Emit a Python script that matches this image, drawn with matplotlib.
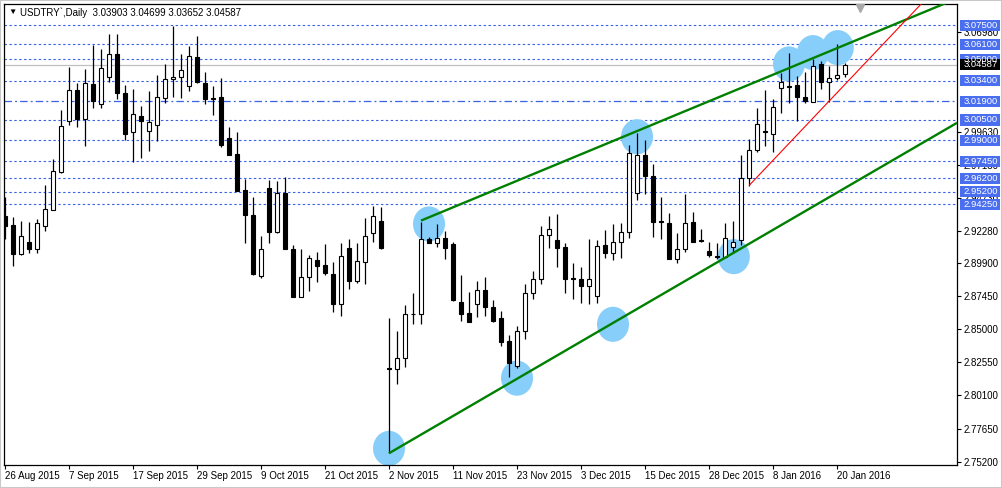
import matplotlib
matplotlib.use("Agg")
import matplotlib.pyplot as plt
import matplotlib.transforms as mtransforms
from matplotlib.patches import Ellipse, Rectangle

plt.rcParams['font.family'] = ['Liberation Sans', 'DejaVu Sans']

# daily USDTRY bars, 26 Aug 2015 .. 21 Jan 2016
opens = [2.9340, 2.9271, 2.9056, 2.9147, 2.9098, 2.9263, 2.9386, 2.9663, 3.0045, 3.0272,
         3.0055, 3.0317, 3.0166, 3.0367, 3.0542, 3.0250, 2.9959, 3.0080, 2.9971, 3.0015,
         3.0215, 3.0352, 3.0367, 3.0300, 3.0517, 3.0325, 3.0213, 3.0220, 2.9917, 2.9798,
         2.9532, 2.9345, 2.8895, 2.9547, 2.9223, 2.9510, 2.9093, 2.8741, 2.8885, 2.9012,
         2.8974, 2.8908, 2.8685, 2.9101, 2.8854, 2.8995, 2.9212, 2.9300, 2.8212, 2.8204,
         2.8286, 2.8613, 2.8611, 2.9167, 2.9138, 2.9175, 2.9131, 2.8701, 2.8619, 2.8685,
         2.8789, 2.8663, 2.8582, 2.8414, 2.8229, 2.8484, 2.8767, 2.8870, 2.9199, 2.9162,
         2.9110, 2.8876, 2.8872, 2.8823, 2.8749, 2.9125, 2.9068, 2.9145, 2.9219, 2.9508,
         2.9789, 2.9633, 2.9299, 2.9288, 2.9018, 2.9093, 2.9295, 2.9156, 2.9081, 2.9044,
         2.9032, 2.9106, 2.9162, 2.9623, 2.9826, 2.9963, 2.9944, 3.0285, 3.0299, 3.0308,
         3.0218, 3.0185, 3.0463, 3.0330, 3.0359, 3.03903]
highs = [2.9482, 2.9332, 2.9303, 2.9295, 2.9317, 2.9571, 2.9761, 3.0124, 3.0443, 3.0323,
         3.0428, 3.0606, 3.0579, 3.0690, 3.0685, 3.0312, 3.0277, 3.0154, 3.0267, 3.0384,
         3.0468, 3.0744, 3.0539, 3.0601, 3.0675, 3.0408, 3.0300, 3.0362, 2.9998, 2.9961,
         2.9610, 2.9480, 2.9192, 2.9602, 2.9601, 2.9627, 2.9123, 2.9095, 2.9050, 2.9072,
         2.9131, 2.8996, 2.9138, 2.9167, 2.9138, 2.9323, 2.9416, 2.9404, 2.8586, 2.8490,
         2.8678, 2.8767, 2.9297, 2.9182, 2.9280, 2.9229, 2.9145, 2.8900, 2.8774, 2.8858,
         2.8887, 2.8715, 2.8636, 2.8458, 2.8525, 2.8837, 2.8929, 2.9266, 2.9337, 2.9354,
         2.9140, 2.8991, 2.8959, 2.9172, 2.9162, 2.9236, 2.9280, 2.9288, 2.9865, 2.9952,
         2.9902, 2.9724, 2.9480, 2.9362, 2.9212, 2.9502, 2.9369, 2.9243, 2.9147, 2.9140,
         2.9288, 2.9303, 2.9789, 2.9907, 3.0137, 3.0272, 3.0208, 3.0397, 3.0545, 3.0374,
         3.0404, 3.0504, 3.0489, 3.0448, 3.0611, 3.04699]
lows = [2.9167, 2.8971, 2.9051, 2.9068, 2.9068, 2.9231, 2.9380, 2.9656, 3.0015, 2.9998,
        2.9860, 3.0137, 3.0137, 3.0332, 3.0208, 2.9902, 2.9737, 2.9771, 2.9823, 2.9895,
        3.0174, 3.0222, 3.0215, 3.0262, 3.0325, 3.0166, 3.0085, 2.9850, 2.9789, 2.9525,
        2.9142, 2.8902, 2.8880, 2.9136, 2.9214, 2.9095, 2.8739, 2.8737, 2.8787, 2.8850,
        2.8904, 2.8630, 2.8597, 2.8802, 2.8841, 2.8838, 2.9145, 2.9093, 2.7582, 2.8095,
        2.8221, 2.8539, 2.8537, 2.9140, 2.9112, 2.9023, 2.8712, 2.8563, 2.8554, 2.8591,
        2.8595, 2.8554, 2.8376, 2.8149, 2.8216, 2.8431, 2.8722, 2.8833, 2.9105, 2.8964,
        2.8771, 2.8727, 2.8697, 2.8685, 2.8693, 2.9031, 2.9015, 2.9031, 2.9175, 2.9458,
        2.9500, 2.9186, 2.9167, 2.9017, 2.8989, 2.9071, 2.9147, 2.9145, 2.9038, 2.9021,
        2.9030, 2.9064, 2.9125, 2.9562, 2.9811, 2.9860, 2.9811, 3.0104, 3.0174, 3.0045,
        3.0174, 3.0180, 3.0280, 3.0185, 3.0344, 3.03652]
closes = [2.9268, 2.9061, 2.9189, 2.9098, 2.9288, 2.9389, 2.9670, 3.0003, 3.0272, 3.0055,
          3.0325, 3.0193, 3.0434, 3.0537, 3.0252, 2.9946, 3.0092, 3.0045, 3.0035, 3.0218,
          3.0352, 3.0369, 3.0419, 3.0522, 3.0330, 3.0208, 3.0203, 2.9867, 2.9793, 2.9527,
          2.9343, 2.8909, 2.9093, 2.9223, 2.9510, 2.9098, 2.8741, 2.8885, 2.9026, 2.8971,
          2.8919, 2.8691, 2.9042, 2.8861, 2.9004, 2.9189, 2.9337, 2.9101, 2.8207, 2.8288,
          2.8611, 2.8611, 2.9167, 2.9142, 2.9175, 2.9103, 2.8717, 2.8616, 2.8556, 2.8789,
          2.8662, 2.8560, 2.8408, 2.8249, 2.8485, 2.8767, 2.8870, 2.9199, 2.9241, 2.9105,
          2.8875, 2.8874, 2.8823, 2.8872, 2.9117, 2.9068, 2.9145, 2.9219, 2.9804, 2.9789,
          2.9632, 2.9297, 2.9296, 2.9018, 2.9093, 2.9286, 2.9149, 2.9153, 2.9047, 2.9032,
          2.9175, 2.9143, 2.9624, 2.9826, 3.0018, 2.9960, 3.0148, 3.0330, 3.0295, 3.0222,
          3.0193, 3.0448, 3.0330, 3.0359, 3.0386, 3.04587]

date_labels = ["26 Aug 2015", "7 Sep 2015", "17 Sep 2015", "29 Sep 2015", "9 Oct 2015",
               "21 Oct 2015", "2 Nov 2015", "11 Nov 2015", "23 Nov 2015", "3 Dec 2015",
               "15 Dec 2015", "28 Dec 2015", "8 Jan 2016", "20 Jan 2016"]
label_step = 8

# scale values still showing beside the level tags
price_ticks = [3.0698, 2.9963, 2.9718, 2.9473, 2.9228, 2.8990,
               2.8745, 2.8500, 2.8255, 2.8010, 2.7765, 2.7520]
levels = [3.075, 3.061, 3.050, 3.034, 3.019, 3.005, 2.990, 2.9745, 2.962, 2.952, 2.9425]
dashdot_level = 3.019
last_price = 3.04587

# drawn objects: trend lines (bar index, price) and the highlighted touches
lower_trend = [(48, 2.7582), (119, 3.0029)]
upper_trend = [(52, 2.9305), (119, 3.0950)]
red_trend = [(93, 2.9564), (115, 3.0939)]
touches = [(48.0, 2.7618), (64.0, 2.8138), (76.0, 2.8537), (91.1, 2.9038), (53.0, 2.9280),
           (79.0, 2.9926), (98.0, 3.0465), (101.0, 3.0549), (104.1, 3.0586)]

W, H = 1002, 488
fig = plt.figure(figsize=(W / 100, H / 100), dpi=100)
ax = fig.add_axes([4 / W, 23 / H, 953 / W, 461 / H])
ax.set_xlim(-0.125, 119.0)
ax.set_ylim(2.7495, 3.0909)

blue = '#3a63e6'
for lv in levels:
    if lv == dashdot_level:
        ax.axhline(lv, color=blue, lw=0.9, ls=(0, (6, 2.5, 1.5, 2.5)), zorder=1)
    else:
        ax.axhline(lv, color=blue, lw=0.8, ls=(0, (2.2, 2.2)), zorder=1)
ax.axhline(last_price, color='#c0c0c0', lw=0.9, zorder=1)

for cx, cy in touches:
    ax.add_patch(Ellipse((cx, cy), 4.0, 0.026, facecolor='#87cefa', edgecolor='none', zorder=2))

# candles
for i in range(len(opens)):
    o, h, l, c = opens[i], highs[i], lows[i], closes[i]
    ax.vlines(i, l, h, color='black', lw=0.9, zorder=3)
    lo, hi = min(o, c), max(o, c)
    if hi - lo < 0.0005:
        hi = lo + 0.0005
    fc = 'white' if c > o else 'black'
    ax.add_patch(Rectangle((i - 0.3, lo), 0.6, hi - lo, facecolor=fc, edgecolor='black',
                           lw=0.8, zorder=4))

for line, col, lw in [(lower_trend, '#008000', 1.7), (upper_trend, '#008000', 1.7),
                      (red_trend, '#ff0000', 0.8)]:
    xs = [p[0] for p in line]
    ys = [p[1] for p in line]
    ax.plot(xs, ys, color=col, lw=lw, zorder=5, solid_capstyle='butt')

# axes styling
for s in ax.spines.values():
    s.set_color('black')
    s.set_linewidth(0.9)
ax.yaxis.tick_right()
ax.set_yticks(price_ticks)
ax.set_yticklabels([f"{v:.5f}" for v in price_ticks])
ax.tick_params(axis='y', direction='out', length=3, width=0.8, labelsize=7, pad=2)
ax.set_xticks([k * label_step for k in range(len(date_labels))])
ax.set_xticklabels(date_labels, ha='left')
ax.tick_params(axis='x', direction='out', length=3, width=0.8, labelsize=7, pad=1)

# price labels on the right scale
trans = mtransforms.blended_transform_factory(ax.transAxes, ax.transData)
box_h = 0.0082
for lv in levels:
    ax.add_patch(Rectangle((1.0035, lv - box_h / 2), 0.0415, box_h, transform=trans,
                           facecolor='#4a6ef0', edgecolor='none', clip_on=False, zorder=10))
    ax.text(1.0245, lv, f"{lv:.5f}", transform=trans, ha='center', va='center',
            color='white', fontsize=6.8, zorder=11, clip_on=False)
ax.add_patch(Rectangle((1.0035, last_price - box_h / 2), 0.0415, box_h, transform=trans,
                       facecolor='black', edgecolor='none', clip_on=False, zorder=10))
ax.text(1.0245, last_price, f"{last_price:.5f}", transform=trans, ha='center', va='center',
        color='white', fontsize=6.8, zorder=11, clip_on=False)

# shift marker at the top
ax.plot([106.9], [0.992], marker='v', color='#a8a8a8', markersize=6,
        transform=mtransforms.blended_transform_factory(ax.transData, ax.transAxes),
        clip_on=False, zorder=6)

fig.text(8 / W, 1 - 12.5 / H, "\u25bc", fontsize=6, va='center', ha='left')
fig.text(20 / W, 1 - 12.5 / H,
         f"USDTRY`,Daily  {opens[-1]:.5f} {highs[-1]:.5f} {lows[-1]:.5f} {closes[-1]:.5f}",
         fontsize=7, va='center', ha='left')

fig.add_artist(Rectangle((0, 0), 1, 1, transform=fig.transFigure, fill=False,
                         edgecolor='#c8c8c8', lw=1.5))

fig.savefig("out.png", dpi=100)
